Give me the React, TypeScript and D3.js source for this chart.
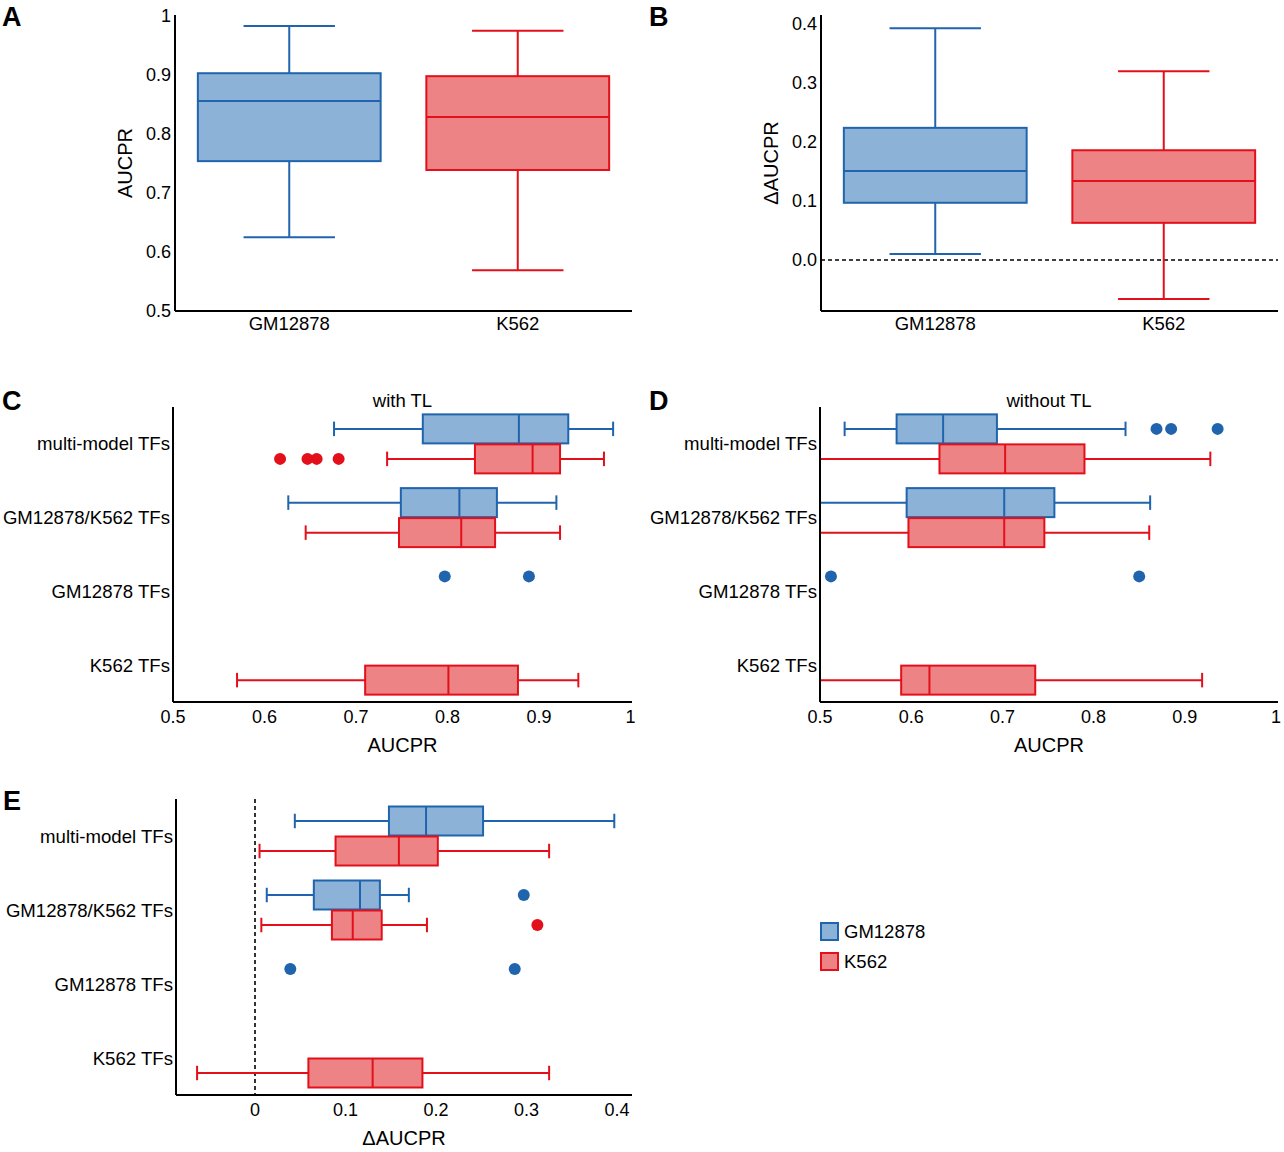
import React from 'react';
import * as d3 from 'd3';

const cellLines = ['GM12878', 'K562'];
const tfGroups = ['multi-model TFs', 'GM12878/K562 TFs', 'GM12878 TFs', 'K562 TFs'];

// box stats: [lower whisker, Q1, median, Q3, upper whisker]
const overallAucpr = [
  [0.625, 0.754, 0.856, 0.903, 0.983],
  [0.569, 0.739, 0.829, 0.898, 0.975],
];
const overallDelta = [
  [0.01, 0.097, 0.151, 0.224, 0.393],
  [-0.066, 0.063, 0.134, 0.186, 0.32],
];

// per TF group (same order as tfGroups), null = no box
const withTlGM = [[0.676, 0.773, 0.878, 0.932, 0.981], [0.626, 0.749, 0.813, 0.854, 0.919], null, null];
const withTlK562 = [[0.734, 0.83, 0.893, 0.923, 0.971], [0.645, 0.747, 0.815, 0.852, 0.923], null, [0.57, 0.71, 0.801, 0.877, 0.943]];
const withTlGMOut = [[], [], [0.797, 0.889], []];
const withTlK562Out = [[0.617, 0.647, 0.657, 0.681], [], [], []];

const noTlGM = [[0.527, 0.584, 0.635, 0.694, 0.835], [0.46, 0.595, 0.702, 0.757, 0.862], null, null];
const noTlK562 = [[0.46, 0.631, 0.703, 0.79, 0.928], [0.46, 0.597, 0.702, 0.746, 0.861], null, [0.46, 0.589, 0.62, 0.736, 0.919]];
const noTlGMOut = [[0.869, 0.885, 0.936], [], [0.512, 0.85], []];
const noTlK562Out = [[], [], [], []];

const deltaGM = [[0.044, 0.148, 0.189, 0.252, 0.397], [0.013, 0.065, 0.116, 0.138, 0.17], null, null];
const deltaK562 = [[0.005, 0.089, 0.159, 0.202, 0.325], [0.007, 0.085, 0.108, 0.14, 0.19], null, [-0.064, 0.059, 0.13, 0.185, 0.325]];
const deltaGMOut = [[], [0.297], [0.039, 0.287], []];
const deltaK562Out = [[], [0.312], [], []];

const aucprTicks = [0.5, 0.6, 0.7, 0.8, 0.9, 1];
const aucprTickLabels = ['0.5', '0.6', '0.7', '0.8', '0.9', '1'];
const deltaTicksB = [0, 0.1, 0.2, 0.3, 0.4];
const deltaTickLabelsB = ['0.0', '0.1', '0.2', '0.3', '0.4'];
const deltaTicksE = [0, 0.1, 0.2, 0.3, 0.4];
const deltaTickLabelsE = ['0', '0.1', '0.2', '0.3', '0.4'];

const FONT = '"Liberation Sans", Arial, sans-serif';
const stroke = { GM12878: '#1f64ad', K562: '#e3101b' };
const fill = { GM12878: '#8db2d8', K562: '#ed8384' };

type Stats = number[] | null;

function VerticalPanel(props: {
  id: string; letter: string; lx: number; x0: number; x1: number; yTop: number; yBottom: number;
  domain: number[]; range: number[]; stats: number[][]; ticks: number[]; tickLabels: string[];
  yTitle: string; titleX: number; zeroLine?: boolean;
}) {
  const { letter, lx, x0, x1, yTop, yBottom, stats, ticks, tickLabels, yTitle, titleX, zeroLine } = props;
  const y = d3.scaleLinear().domain(props.domain).range(props.range);
  const x = d3.scaleBand().domain(cellLines).range([x0, x1]);
  const bw = x.bandwidth() * 0.8;
  return (
    <g>
      <text x={lx} y={26} fontSize={27} fontWeight="bold">{letter}</text>
      {zeroLine && (
        <line x1={x0} x2={x1} y1={y(0)} y2={y(0)} stroke="#000" strokeWidth={1.6} strokeDasharray="4,3" />
      )}
      {cellLines.map((c, i) => {
        const s = stats[i];
        const cx = x(c)! + x.bandwidth() / 2;
        const col = stroke[c as keyof typeof stroke];
        return (
          <g key={c} stroke={col} strokeWidth={2}>
            <line x1={cx} x2={cx} y1={y(s[0])} y2={y(s[1])} />
            <line x1={cx} x2={cx} y1={y(s[3])} y2={y(s[4])} />
            <line x1={cx - bw / 4} x2={cx + bw / 4} y1={y(s[0])} y2={y(s[0])} />
            <line x1={cx - bw / 4} x2={cx + bw / 4} y1={y(s[4])} y2={y(s[4])} />
            <rect x={cx - bw / 2} width={bw} y={y(s[3])} height={y(s[1]) - y(s[3])} fill={fill[c as keyof typeof fill]} />
            <line x1={cx - bw / 2} x2={cx + bw / 2} y1={y(s[2])} y2={y(s[2])} />
          </g>
        );
      })}
      <line x1={x0} x2={x0} y1={yTop} y2={yBottom} stroke="#000" strokeWidth={2} />
      <line x1={x0} x2={x1} y1={yBottom} y2={yBottom} stroke="#000" strokeWidth={2} />
      {ticks.map((t, i) => (
        <text key={t} x={x0 - 4} y={y(t)} dy="0.35em" textAnchor="end" fontSize={18}>{tickLabels[i]}</text>
      ))}
      {cellLines.map((c) => (
        <text key={c} x={x(c)! + x.bandwidth() / 2} y={330} textAnchor="middle" fontSize={18.5}>{c}</text>
      ))}
      <text transform={`translate(${titleX},${(yTop + yBottom) / 2}) rotate(-90)`} dy="0.35em" textAnchor="middle" fontSize={20}>{yTitle}</text>
    </g>
  );
}

function HorizontalPanel(props: {
  id: string; letter: string; lx: number; ly: number; axisX0: number; axisX1: number;
  domain: number[]; range: number[]; yTop: number; yBottom: number;
  gm: Stats[]; k562: Stats[]; gmOut: number[][]; k562Out: number[][];
  ticks: number[]; tickLabels: string[]; title?: string; xTitle: string; zeroLine?: boolean;
}) {
  const { id, letter, lx, ly, axisX0, axisX1, yTop, yBottom, ticks, tickLabels, title, xTitle, zeroLine } = props;
  const x = d3.scaleLinear().domain(props.domain).range(props.range);
  const y = d3.scaleBand().domain(tfGroups).range([yTop, yBottom]);
  const sub = d3.scaleBand().domain(cellLines).range([-30, 30]);
  const bh = sub.bandwidth() - 1;
  const series = [
    { c: 'GM12878', stats: props.gm, out: props.gmOut },
    { c: 'K562', stats: props.k562, out: props.k562Out },
  ];
  const midX = (axisX0 + axisX1) / 2;
  return (
    <g>
      <defs>
        <clipPath id={id}>
          <rect x={axisX0} y={yTop - 10} width={axisX1 - axisX0} height={yBottom - yTop + 10} />
        </clipPath>
      </defs>
      <text x={lx} y={ly} fontSize={27} fontWeight="bold">{letter}</text>
      {title && <text x={midX} y={yTop} textAnchor="middle" fontSize={18.5}>{title}</text>}
      {zeroLine && (
        <line x1={x(0)} x2={x(0)} y1={yTop} y2={yBottom} stroke="#000" strokeWidth={1.6} strokeDasharray="4,3" />
      )}
      <g clipPath={`url(#${id})`}>
        {tfGroups.map((g, gi) => {
          const center = y(g)! + y.bandwidth() / 2;
          return series.map(({ c, stats, out }) => {
            const cy = center + sub(c)! + sub.bandwidth() / 2;
            const s = stats[gi];
            const col = stroke[c as keyof typeof stroke];
            return (
              <g key={g + c}>
                {s && (
                  <g stroke={col} strokeWidth={2}>
                    <line x1={x(s[0])} x2={x(s[1])} y1={cy} y2={cy} />
                    <line x1={x(s[3])} x2={x(s[4])} y1={cy} y2={cy} />
                    <line x1={x(s[0])} x2={x(s[0])} y1={cy - bh / 4} y2={cy + bh / 4} />
                    <line x1={x(s[4])} x2={x(s[4])} y1={cy - bh / 4} y2={cy + bh / 4} />
                    <rect x={x(s[1])} width={x(s[3]) - x(s[1])} y={cy - bh / 2} height={bh} fill={fill[c as keyof typeof fill]} />
                    <line x1={x(s[2])} x2={x(s[2])} y1={cy - bh / 2} y2={cy + bh / 2} />
                  </g>
                )}
                {out[gi].map((v, k) => (
                  <circle key={k} cx={x(v)} cy={cy} r={6} fill={col} />
                ))}
              </g>
            );
          });
        })}
      </g>
      <line x1={axisX0} x2={axisX0} y1={yTop} y2={yBottom} stroke="#000" strokeWidth={2} />
      <line x1={axisX0} x2={axisX1} y1={yBottom} y2={yBottom} stroke="#000" strokeWidth={2} />
      {ticks.map((t, i) => (
        <text key={t} x={x(t)} y={yBottom + 21} textAnchor="middle" fontSize={18}>{tickLabels[i]}</text>
      ))}
      {tfGroups.map((g) => (
        <text key={g} x={axisX0 - 3} y={y(g)! + y.bandwidth() / 2} dy="0.35em" textAnchor="end" fontSize={18.6}>{g}</text>
      ))}
      <text x={midX} y={yBottom + 50} textAnchor="middle" fontSize={20}>{xTitle}</text>
    </g>
  );
}

const App: React.FC = () => {
  return (
    <svg width={1284} height={1152} style={{ position: 'absolute', left: 0, top: 0, background: '#fff' }} fontFamily={FONT}>
      <VerticalPanel id="a" letter="A" lx={2} x0={175} x1={632} yTop={15} yBottom={311}
        domain={[0.5, 1]} range={[311, 16]} stats={overallAucpr} ticks={aucprTicks} tickLabels={aucprTickLabels}
        yTitle="AUCPR" titleX={125} />
      <VerticalPanel id="b" letter="B" lx={649} x0={821} x1={1278} yTop={15} yBottom={311}
        domain={[0, 0.4]} range={[260, 24]} stats={overallDelta} ticks={deltaTicksB} tickLabels={deltaTickLabelsB}
        yTitle="ΔAUCPR" titleX={771} zeroLine />
      <HorizontalPanel id="clipC" letter="C" lx={2} ly={410} axisX0={173} axisX1={632}
        domain={[0.5, 1]} range={[173, 630.5]} yTop={407} yBottom={702}
        gm={withTlGM} k562={withTlK562} gmOut={withTlGMOut} k562Out={withTlK562Out}
        ticks={aucprTicks} tickLabels={aucprTickLabels} title="with TL" xTitle="AUCPR" />
      <HorizontalPanel id="clipD" letter="D" lx={649} ly={410} axisX0={820} axisX1={1278}
        domain={[0.5, 1]} range={[820, 1276]} yTop={407} yBottom={702}
        gm={noTlGM} k562={noTlK562} gmOut={noTlGMOut} k562Out={noTlK562Out}
        ticks={aucprTicks} tickLabels={aucprTickLabels} title="without TL" xTitle="AUCPR" />
      <HorizontalPanel id="clipE" letter="E" lx={3} ly={810} axisX0={176} axisX1={632}
        domain={[0, 0.4]} range={[255, 617]} yTop={799} yBottom={1095}
        gm={deltaGM} k562={deltaK562} gmOut={deltaGMOut} k562Out={deltaK562Out}
        ticks={deltaTicksE} tickLabels={deltaTickLabelsE} xTitle="ΔAUCPR" zeroLine />
      {cellLines.map((c, i) => (
        <g key={c} transform={`translate(821,${923 + i * 30})`}>
          <rect x={0} y={0} width={17} height={17} fill={fill[c as keyof typeof fill]} stroke={stroke[c as keyof typeof stroke]} strokeWidth={2} />
          <text x={23} y={14.5} fontSize={18.5}>{c}</text>
        </g>
      ))}
    </svg>
  );
};

export default App;
